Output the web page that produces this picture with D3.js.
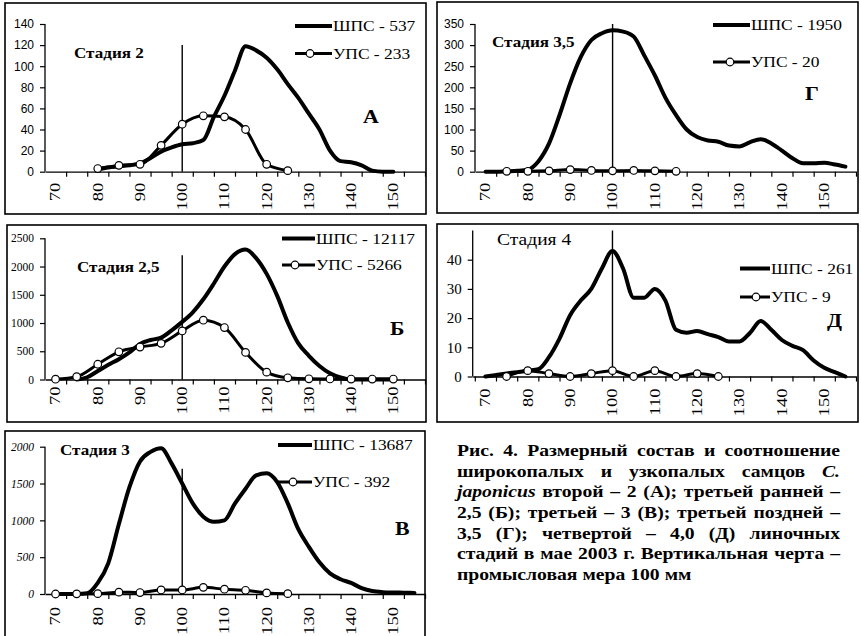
<!DOCTYPE html>
<html>
<head>
<meta charset="utf-8">
<script src="https://cdn.jsdelivr.net/npm/d3@7"></script>
<style>
  body { margin: 0; background: #fff; }
  svg { display: block; }
</style>
</head>
<body>
<svg id="fig" width="861" height="636"></svg>
<script>
// ---- data ----
// length classes, mm
const lenFine = [70, 72.5, 75, 77.5, 80, 82.5, 85, 87.5, 90, 92.5, 95, 97.5, 100, 102.5, 105, 107.5, 110,
  112.5, 115, 117.5, 120, 122.5, 125, 127.5, 130, 132.5, 135, 137.5, 140, 142.5, 145, 147.5, 150, 152.5, 155];
const lenUps = [70, 75, 80, 85, 90, 95, 100, 105, 110, 115, 120, 125, 130, 135, 140, 145, 150];
const xLabels = [70, 80, 90, 100, 110, 120, 130, 140, 150];

// ШПС (wide-finger males), one value per lenFine
const shpsA = [null, null, null, null, 2, 4, 5, 6, 8, 13, 19, 23, 26, 27, 30, 52, 72,
  96, 119, 115, 108, 97, 83, 70, 55, 40, 20, 10, 9, 6, 1, 0, 0, null, null];
const shpsB = [null, null, 0, 40, 150, 260, 360, 480, 630, 700, 740, 870, 1020, 1190, 1420, 1700, 2000,
  2220, 2300, 2150, 1870, 1480, 1010, 640, 420, 240, 110, 35, 0, 0, 0, 0, 0, null, null];
const shpsV = [0, 0, 0, 10, 150, 420, 950, 1450, 1800, 1930, 1980, 1770, 1500, 1230, 1050, 980, 1000,
  1230, 1430, 1610, 1640, 1520, 1230, 880, 640, 430, 280, 200, 150, 80, 40, 25, 20, 18, 15];
const shpsG = [0, 0, 1, 2, 5, 25, 67, 135, 210, 272, 312, 328, 335, 332, 320, 275, 228,
  175, 134, 100, 82, 74, 71, 62, 60, 70, 77, 67, 50, 32, 20, 20, 21, 17, 12];
const shpsD = [0, 0.5, 1, 1.5, 2, 2.5, 6.6, 13, 21, 26, 30, 37, 43, 37, 27, 27, 30,
  26, 16, 15, 15.6, 14.5, 13.5, 12, 12, 15, 19, 16, 12.5, 10.5, 9, 5.5, 3, 1.5, 0];

// УПС (narrow-finger males), one value per lenUps
const upsA = [null, null, 3, 6, 7, 25, 45, 53, 52, 40, 7, 1, null, null, null, null, null];
const upsB = [5, 50, 270, 490, 575, 640, 860, 1050, 920, 480, 130, 30, 12, 10, 8, 8, 8];
const upsV = [0, 2, 5, 25, 20, 55, 55, 90, 65, 50, 15, 5, null, null, null, null, null];
const upsG = [null, 1, 1, 2, 5, 3, 2, 3, 2, 1, null, null, null, null, null, null, null];
const upsD = [null, 0, 2, 1, 0, 1, 2, 0, 2, 0, 1, 0, null, null, null, null, null];

const shpsTotals = [537, 12117, 13687, 1950, 261];
const upsTotals = [233, 5266, 392, 20, 9];
const stageNames = ['Стадия 2', 'Стадия 2,5', 'Стадия 3', 'Стадия 3,5', 'Стадия 4'];
const panelLetters = ['А', 'Б', 'В', 'Г', 'Д'];
const yTicksA = [0, 20, 40, 60, 80, 100, 120, 140];
const yTicksB = [0, 500, 1000, 1500, 2000, 2500];
const yTicksV = [0, 500, 1000, 1500, 2000];
const yTicksG = [0, 50, 100, 150, 200, 250, 300, 350];
const yTicksD = [0, 10, 20, 30, 40];
// height of the vertical "100 mm" mark, in y units
const markTop = [120, 2200, 1700, 350, 50];

const captionLines = [
  'Рис. 4. Размерный состав и соотношение',
  'широкопалых и узкопалых самцов C.',
  'japonicus второй – 2 (А); третьей ранней –',
  '2,5 (Б); третьей – 3 (В); третьей поздней –',
  '3,5 (Г); четвертой – 4,0 (Д) линочных',
  'стадий в мае 2003 г. Вертикальная черта –',
  'промысловая мера 100 мм'
];
const italicWords = new Set(['C.', 'japonicus']);

// ---- layout ----
const SERIF = '"Liberation Serif", "Times New Roman", serif';
const SANS = '"Liberation Sans", Arial, sans-serif';

const panels = [
  { frame: [5, 3, 426, 214], xDom: [67.5, 157.5], xRange: [45, 425], y0: 171.7, yTop: 24, yMax: 140,
    ticks: yTicksA, shps: shpsA, ups: upsA, yFont: { f: SANS, s: 12 }, labGap: 11,
    leg: { x1: 295, x2: 332, y1: 26, y2: 53.5, c: 310 },
    title: { x: 74, y: 58, w: 'bold', s: 14 }, letter: { x: 363, y: 123 } },
  { frame: [7, 225, 426, 422], xDom: [67.5, 157.5], xRange: [45, 425], y0: 379.5, yTop: 238.3, yMax: 2500,
    ticks: yTicksB, shps: shpsB, ups: upsB, yFont: { f: SERIF, s: 11.5 }, labGap: 7,
    leg: { x1: 282, x2: 315, y1: 238.5, y2: 265, c: 295 },
    title: { x: 77, y: 272, w: 'bold', s: 14 }, letter: { x: 390, y: 335 } },
  { frame: [5, 431, 425, 640], xDom: [67.5, 157.5], xRange: [45, 425], y0: 594, yTop: 446.7, yMax: 2000,
    ticks: yTicksV, shps: shpsV, ups: upsV, yFont: { f: SERIF, s: 11.5, st: 'italic' }, labGap: 13,
    leg: { x1: 278, x2: 312, y1: 445, y2: 482, c: 293 },
    title: { x: 60, y: 455, w: 'bold', s: 14 }, letter: { x: 395, y: 535 } },
  { frame: [437, 2, 858, 213], xDom: [67.5, 157.5], xRange: [475, 856], y0: 171.7, yTop: 24, yMax: 350,
    ticks: yTicksG, shps: shpsG, ups: upsG, yFont: { f: SANS, s: 12 }, labGap: 11,
    leg: { x1: 713, x2: 750, y1: 25, y2: 62, c: 730 },
    title: { x: 492, y: 47, w: 'bold', s: 14 }, letter: { x: 805, y: 100 } },
  { frame: [437, 224, 858, 422], xDom: [67, 157.5], xRange: [472.7, 856], y0: 376.5, yTop: 230.5, yMax: 50,
    ticks: yTicksD, shps: shpsD, ups: upsD, yFont: { f: SERIF, s: 15 }, labGap: 12,
    leg: { x1: 740, x2: 770, y1: 268.5, y2: 297, c: 756 },
    title: { x: 497, y: 245, w: 'normal', s: 16 }, letter: { x: 827, y: 327 } }
];

const svg = d3.select('#fig');
svg.append('rect').attr('width', 861).attr('height', 636).attr('fill', '#fff');

// the scan is stretched sideways; widen glyphs to match
function stretch(sel, k) {
  sel.each(function () {
    const w = this.getComputedTextLength();
    d3.select(this).attr('textLength', w * k).attr('lengthAdjust', 'spacingAndGlyphs');
  });
}

panels.forEach((p, i) => {
  const g = svg.append('g');
  const [fx1, fy1, fx2, fy2] = p.frame;
  g.append('rect')
    .attr('x', fx1).attr('y', fy1).attr('width', fx2 - fx1).attr('height', fy2 - fy1)
    .attr('fill', 'none').attr('stroke', '#000').attr('stroke-width', 1.6);

  const x = d3.scaleLinear().domain(p.xDom).range(p.xRange);
  const y = d3.scaleLinear().domain([0, p.yMax]).range([p.y0, p.yTop]);

  // y axis
  const ya = g.append('g').attr('transform', `translate(${p.xRange[0]},0)`)
    .call(d3.axisLeft(y).tickValues(p.ticks).tickSize(5).tickPadding(6).tickSizeOuter(0)
      .tickFormat(d => String(d)));
  ya.select('.domain').attr('stroke', '#000').attr('stroke-width', 1.3)
    .attr('d', `M0,${p.y0}V${y(p.yMax)}`);
  ya.selectAll('.tick line').attr('stroke', '#000').attr('stroke-width', 1.2);
  ya.selectAll('.tick text')
    .attr('fill', '#000').attr('font-family', p.yFont.f).attr('font-size', p.yFont.s)
    .attr('font-style', p.yFont.st || 'normal');

  // x axis: ticks between 5 mm classes, labels every 10 mm
  const tickPos = d3.range(67.5, p.xDom[1] + 0.01, 5).filter(v => v > p.xDom[0] + 0.1);
  const xa = g.append('g').attr('transform', `translate(0,${p.y0})`)
    .call(d3.axisBottom(x).tickValues(tickPos).tickSize(5).tickSizeOuter(0).tickFormat(''));
  xa.select('.domain').attr('stroke', '#000').attr('stroke-width', 1.3);
  xa.selectAll('.tick line').attr('stroke', '#000').attr('stroke-width', 1.2);

  const xl = g.append('g').selectAll('text').data(xLabels).join('text')
    .attr('transform', d => `translate(${x(d)},${p.y0 + p.labGap}) rotate(-90)`)
    .attr('text-anchor', 'end').attr('dy', '0.35em')
    .attr('font-family', SERIF).attr('font-size', 14).attr('fill', '#000')
    .text(d => d);
  stretch(xl, 1.33);

  // 100 mm mark
  g.append('line')
    .attr('x1', x(100)).attr('x2', x(100)).attr('y1', p.y0).attr('y2', y(markTop[i]))
    .attr('stroke', '#000').attr('stroke-width', 1.4);

  // ШПС
  const smooth = d3.line()
    .defined(d => d[1] != null)
    .x(d => x(d[0])).y(d => y(d[1]))
    .curve(d3.curveMonotoneX);
  g.append('path')
    .datum(lenFine.map((l, j) => [l, p.shps[j]]))
    .attr('d', smooth)
    .attr('fill', 'none').attr('stroke', '#000').attr('stroke-width', 4)
    .attr('stroke-linejoin', 'round').attr('stroke-linecap', 'round');

  // УПС
  const upsPts = lenUps.map((l, j) => [l, p.ups[j]]).filter(d => d[1] != null);
  g.append('path')
    .datum(upsPts)
    .attr('d', smooth)
    .attr('fill', 'none').attr('stroke', '#000').attr('stroke-width', 3)
    .attr('stroke-linejoin', 'round');
  g.append('g').selectAll('circle').data(upsPts).join('circle')
    .attr('cx', d => x(d[0])).attr('cy', d => y(d[1])).attr('r', 3.8)
    .attr('fill', '#fff').attr('stroke', '#000').attr('stroke-width', 1.2);

  // legend
  const L = p.leg;
  g.append('line').attr('x1', L.x1).attr('x2', L.x2).attr('y1', L.y1).attr('y2', L.y1)
    .attr('stroke', '#000').attr('stroke-width', 4);
  g.append('line').attr('x1', L.x1).attr('x2', L.x2).attr('y1', L.y2).attr('y2', L.y2)
    .attr('stroke', '#000').attr('stroke-width', 3);
  g.append('circle').attr('cx', L.c).attr('cy', L.y2).attr('r', 3.8)
    .attr('fill', '#fff').attr('stroke', '#000').attr('stroke-width', 1.2);
  const lt = g.append('g').selectAll('text')
    .data([[L.y1, 'ШПС - ' + shpsTotals[i]], [L.y2, 'УПС - ' + upsTotals[i]]])
    .join('text')
    .attr('x', L.x2 + 1).attr('y', d => d[0]).attr('dy', '0.36em')
    .attr('font-family', SERIF).attr('font-size', 14.5).attr('fill', '#000')
    .text(d => d[1]);
  stretch(lt, 1.2);

  // stage title and panel letter
  const tt = g.append('text').attr('x', p.title.x).attr('y', p.title.y)
    .attr('font-family', SERIF).attr('font-weight', p.title.w).attr('font-size', p.title.s)
    .text(stageNames[i]);
  stretch(tt, 1.22);
  const lt2 = g.append('text').attr('x', p.letter.x).attr('y', p.letter.y)
    .attr('font-family', SERIF).attr('font-weight', 'bold').attr('font-size', 19)
    .text(panelLetters[i]);
  stretch(lt2, 1.15);
});

// ---- caption, justified, widened like the scan ----
const capX = 457, capW = 383, capY = 456, capLH = 20.7, capK = 1.19;
const cap = svg.append('g')
  .attr('transform', `translate(${capX},0) scale(${capK},1)`)
  .attr('font-family', SERIF).attr('font-weight', 'bold').attr('font-size', 16.5);
captionLines.forEach((line, li) => {
  const items = line.split(' ').map(w => {
    const t = cap.append('text').attr('y', capY + li * capLH)
      .attr('font-style', italicWords.has(w) ? 'italic' : 'normal').text(w);
    return { t, w: t.node().getComputedTextLength() };
  });
  const sum = d3.sum(items, d => d.w);
  const last = li === captionLines.length - 1;
  const gap = last ? 4.2 : (capW / capK - sum) / (items.length - 1);
  let cx = 0;
  items.forEach(d => { d.t.attr('x', cx); cx += d.w + gap; });
});
</script>
</body>
</html>
